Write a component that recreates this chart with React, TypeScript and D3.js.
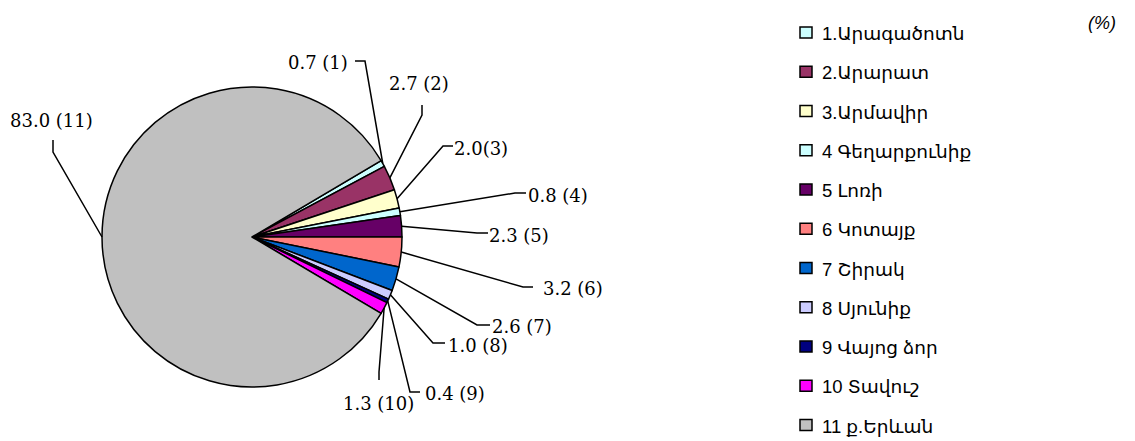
import React, { useEffect, useRef } from "react";
import * as d3 from "d3";

// regional shares, %
const regions = [
  "1.Արագածոտն",
  "2.Արարատ",
  "3.Արմավիր",
  "4 Գեղարքունիք",
  "5 Լոռի",
  "6 Կոտայք",
  "7 Շիրակ",
  "8 Սյունիք",
  "9 Վայոց ձոր",
  "10 Տավուշ",
  "11 ք.Երևան",
];
const shares = [0.7, 2.7, 2.0, 0.8, 2.3, 3.2, 2.6, 1.0, 0.4, 1.3, 83.0];
const labels = [
  "0.7 (1)",
  "2.7 (2)",
  "2.0(3)",
  "0.8 (4)",
  "2.3 (5)",
  "3.2 (6)",
  "2.6 (7)",
  "1.0 (8)",
  "0.4 (9)",
  "1.3 (10)",
  "83.0 (11)",
];
const colors = [
  "#CCFFFF",
  "#993366",
  "#FFFFCC",
  "#CCFFFF",
  "#660066",
  "#FF8080",
  "#0066CC",
  "#CCCCFF",
  "#000080",
  "#FF00FF",
  "#C0C0C0",
];

// label placement (text position, leader knee, leader end near the text)
const labelLayout = [
  { tx: 288, ty: 69, knee: [365, 61], end: [355, 61] },
  { tx: 389, ty: 90, knee: [422, 115], end: [422, 105] },
  { tx: 454, ty: 155, knee: [443, 146], end: [453, 146] },
  { tx: 528, ty: 202, knee: [515, 193], end: [526, 193] },
  { tx: 489, ty: 242, knee: [477, 233], end: [488, 233] },
  { tx: 543, ty: 295, knee: [523, 287], end: [533, 287] },
  { tx: 492, ty: 333, knee: [477, 325], end: [490, 325] },
  { tx: 448, ty: 352, knee: [433, 343], end: [445, 343] },
  { tx: 425, ty: 400, knee: [410, 392], end: [420, 392] },
  { tx: 343, ty: 410, knee: [379, 372], end: [379, 380] },
  { tx: 10, ty: 127, knee: [53, 152], end: [53, 140] },
];

const App = () => {
  const svgRef: any = useRef();

  useEffect(() => {
    const width = 1135;
    const height = 441;
    const svg = d3.select(svgRef.current);
    svg.selectAll("*").remove();
    svg.attr("width", width).attr("height", height);

    const cx = 252;
    const cy = 237;
    const radius = 150;
    const start = (59.4 * Math.PI) / 180;

    const pie = d3
      .pie<number>()
      .sort(null)
      .value((d) => d)
      .startAngle(start)
      .endAngle(start + 2 * Math.PI);
    const arcs = pie(shares);
    const arc = d3.arc<any>().innerRadius(0).outerRadius(radius);

    const g = svg.append("g").attr("transform", `translate(${cx},${cy})`);
    g.selectAll("path")
      .data(arcs)
      .join("path")
      .attr("d", arc)
      .attr("fill", (d, i) => colors[i])
      .attr("stroke", "#000")
      .attr("stroke-width", 1.5)
      .attr("stroke-linejoin", "round");

    // leader lines
    const line = d3.line();
    svg
      .selectAll(".leader")
      .data(arcs)
      .join("path")
      .attr("class", "leader")
      .attr("fill", "none")
      .attr("stroke", "#000")
      .attr("stroke-width", 1.5)
      .attr("d", (d, i) => {
        const mid = (d.startAngle + d.endAngle) / 2;
        const ex = cx + radius * Math.sin(mid);
        const ey = cy - radius * Math.cos(mid);
        const l = labelLayout[i];
        return line([[ex, ey], l.knee as any, l.end as any]);
      });

    svg
      .selectAll(".label")
      .data(arcs)
      .join("text")
      .attr("class", "label")
      .attr("x", (d, i) => labelLayout[i].tx)
      .attr("y", (d, i) => labelLayout[i].ty)
      .attr("font-family", "'DejaVu Serif', serif")
      .attr("font-size", 18)
      .attr("fill", "#000")
      .text((d, i) => labels[i]);

    // legend
    const legendY = d3
      .scalePoint()
      .domain(regions)
      .range([27, 27 + 39.25 * (regions.length - 1)]);
    const legend = svg
      .selectAll(".legend")
      .data(regions)
      .join("g")
      .attr("class", "legend")
      .attr("transform", (d) => `translate(800,${legendY(d)})`);
    legend
      .append("rect")
      .attr("width", 12)
      .attr("height", 11)
      .attr("fill", (d, i) => colors[i])
      .attr("stroke", "#000")
      .attr("stroke-width", 1.5);
    legend
      .append("text")
      .attr("x", 22)
      .attr("y", 13)
      .attr("font-family", "'Liberation Sans', 'DejaVu Sans', sans-serif")
      .attr("font-size", 18.5)
      .attr("fill", "#000")
      .text((d) => d);

    svg
      .append("text")
      .attr("x", 1088)
      .attr("y", 29)
      .attr("font-family", "'Liberation Sans', sans-serif")
      .attr("font-style", "italic")
      .attr("font-size", 18)
      .text("(%)");
  }, []);

  return (
    <svg
      ref={svgRef}
      style={{ position: "absolute", left: 0, top: 0, background: "#fff" }}
    ></svg>
  );
};

export default App;
